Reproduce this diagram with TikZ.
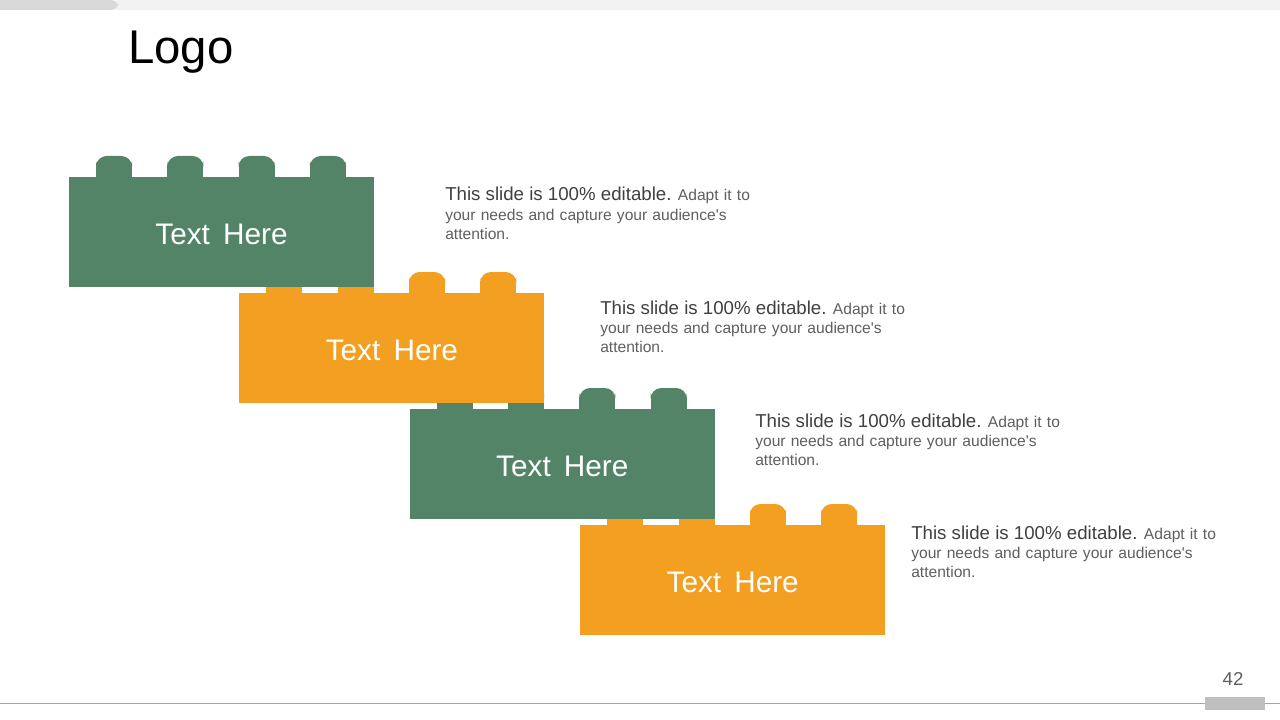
\documentclass[tikz,border=0pt]{standalone}
\usepackage{fontspec}
\setmainfont{Liberation Sans}
\definecolor{brickgreen}{HTML}{548468}
\definecolor{brickorange}{HTML}{F29F22}
\definecolor{headgrey}{HTML}{404040}
\definecolor{bodygrey}{HTML}{5F5F5F}
\definecolor{bardark}{HTML}{D9D9D9}
\definecolor{barlight}{HTML}{F2F2F2}
\definecolor{footline}{HTML}{A6A6A6}
\definecolor{footbox}{HTML}{BFBFBF}
\tikzset{
  bricktext/.style={text=white, font=\fontsize{22.3}{26}\selectfont, inner sep=0pt},
  desc/.style={anchor=base west, inner sep=0pt, text width=250pt, align=left,
    text=bodygrey, font=\fontsize{11.7}{14.6}\selectfont},
}
\newcommand\legobrick[4]{%
  \begin{scope}[shift={(#1,#2)}]
    \foreach \s in {0,1,2,3}{
      \fill[#3, rounded corners=8] ({27+71.3*\s},-5) rectangle ({63+71.3*\s},-21);
      \fill[#3] ({27+71.3*\s},1) rectangle ({63+71.3*\s},-12);
    }
    \fill[#3] (0,0) rectangle (305,110);
    \node[bricktext] (#4) at (152.5,57) {Text\,  Here};
  \end{scope}}
\newcommand\desctext{{\color{headgrey}\fontsize{14}{14.6}\selectfont This slide is 100\% editable.}\hspace{-1pt} Adapt it to\\ your needs and capture your audience\textquotesingle s\\ attention.}
\begin{document}
\begin{tikzpicture}[x=0.75pt, y=-0.75pt]
\useasboundingbox (0,0) rectangle (1280,720);
\fill[white] (0,0) rectangle (1280,720);
% top bar
\fill[barlight, rounded corners=5] (112,0) rectangle (1290,10);
\fill[bardark, rounded corners=5] (-10,0) rectangle (118,10);
% title
\node[anchor=base west, inner sep=0pt, font=\fontsize{35.5}{40}\selectfont] (logo) at (128,63.5) {Logo};
% bricks (lower first so upper ones overlap)
\legobrick{580.2}{525}{brickorange}{b4}
\legobrick{409.8}{409}{brickgreen}{b3}
\legobrick{239.4}{293}{brickorange}{b2}
\legobrick{69}{177}{brickgreen}{b1}
% descriptions
\node[desc] (d1) at (445,201) {\desctext};
\node[desc] (d2) at (600,314) {\desctext};
\node[desc] (d3) at (755,427) {\desctext};
\node[desc] (d4) at (911,539) {\desctext};
% footer
\draw[footline, line width=0.9pt] (0,703.5) -- (1280,703.5);
\fill[footbox] (1205,697) rectangle (1265,710);
\node[text=bodygrey, inner sep=0pt, anchor=base, font=\fontsize{14}{16}\selectfont] (page) at (1233,685) {42};
\end{tikzpicture}
\end{document}
